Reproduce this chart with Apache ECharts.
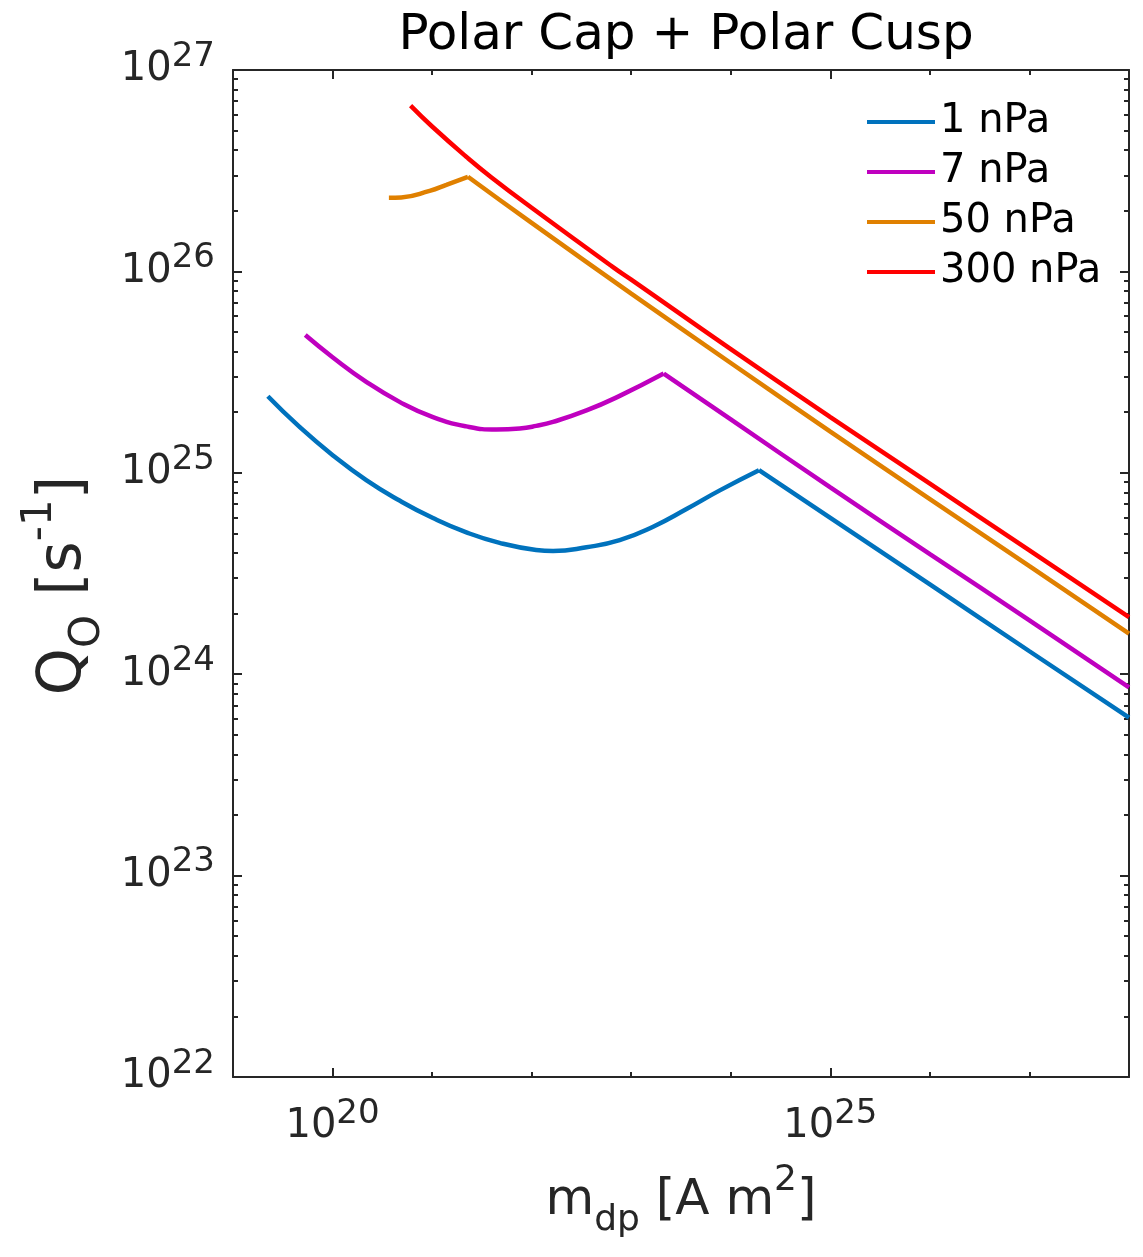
<!DOCTYPE html>
<html>
<head>
<meta charset="utf-8">
<title>Polar Cap + Polar Cusp</title>
<script src="https://cdn.jsdelivr.net/npm/echarts@6/dist/echarts.min.js"></script>
<style>
  html, body { margin: 0; padding: 0; background: #ffffff; }
  #chart { width: 1143px; height: 1257px; }
</style>
</head>
<body>
<div id="chart"></div>
<script>
// Dipole moment m_dp [A m^2] and oxygen outflow Q_O [s^-1] for each dynamic pressure.
// Each curve has a low-moment branch up to its kink and a power-law branch after it.
const m1nPaLow = [2.24e19, 4.66e19, 1.01e20, 2.18e20, 4.71e20, 1.02e21, 2.21e21, 4.76e21, 1.11e22, 1.64e22, 3.55e22, 7.66e22, 1.66e23, 3.59e23, 7.76e23, 1.92e24];
const q1nPaLow = [2.40e25, 1.69e25, 1.22e25, 9.20e24, 7.28e24, 5.96e24, 5.06e24, 4.49e24, 4.14e24, 4.09e24, 4.27e24, 4.63e24, 5.40e24, 6.61e24, 8.18e24, 1.03e25];
const m1nPaHigh = [1.92e24, 1e25, 1e26, 1e27, 1e28];
const q1nPaHigh = [1.03e25, 5.98e24, 2.79e24, 1.30e24, 6.08e23];

const m7nPaLow = [5.32e19, 1.00e20, 2.18e20, 4.71e20, 1.02e21, 2.21e21, 4.42e21, 7.59e21, 1.11e22, 1.64e22, 3.55e22, 7.66e22, 2.12e23];
const q7nPaLow = [4.83e25, 3.75e25, 2.83e25, 2.25e25, 1.89e25, 1.70e25, 1.64e25, 1.66e25, 1.71e25, 1.79e25, 2.04e25, 2.41e25, 3.11e25];
const m7nPaHigh = [2.12e23, 1e24, 1e25, 1e26, 1e27, 1e28];
const q7nPaHigh = [3.11e25, 1.84e25, 8.47e24, 3.95e24, 1.85e24, 8.61e23];

const m50nPaLow = [3.68e20, 4.90e20, 9.44e20, 1.39e21, 2.29e21];
const q50nPaLow = [2.32e26, 2.33e26, 2.51e26, 2.69e26, 2.95e26];
const m50nPaHigh = [2.29e21, 1e22, 1e23, 1e24, 1e25, 1e26, 1e27, 1e28];
const q50nPaHigh = [2.95e26, 1.74e26, 7.76e25, 3.51e25, 1.60e25, 7.41e24, 3.44e24, 1.59e24];

const m300nPa = [6.08e20, 1e21, 2.29e21, 3.98e21, 1e22, 6.56e22, 1e23, 1e24, 1e25, 1e26, 1e27, 1e28];
const q300nPa = [6.65e26, 5.24e26, 3.65e26, 2.92e26, 2.07e26, 1.05e26, 9.10e25, 4.11e25, 1.89e25, 8.83e24, 4.12e24, 1.92e24];

const seriesNames = ['1 nPa', '7 nPa', '50 nPa', '300 nPa'];
const seriesColors = ['#0072BD', '#BF00BF', '#E08000', '#FF0000'];

// Axis ticks
const xDecadeTicks = [1e19, 1e20, 1e21, 1e22, 1e23, 1e24, 1e25, 1e26, 1e27, 1e28];
const xLabelTicks = [1e20, 1e25];
const yDecadeTicks = [1e22, 1e23, 1e24, 1e25, 1e26, 1e27];
const yMinorMantissas = [2, 3, 4, 5, 6, 7, 8, 9];
const yMinorDecades = [1e22, 1e23, 1e24, 1e25, 1e26];
const yMinorTicks = [];
yMinorDecades.forEach(d => yMinorMantissas.forEach(k => yMinorTicks.push(k * d)));

// Axis ranges (a hair wider than the end decades so the end ticks are kept)
const X_MIN = 0.999999e19, X_MAX = 1.000001e28;
const Y_MIN = 0.999999e22, Y_MAX = 1.000001e27;

const AXIS = '#262626';
const FONT = 'DejaVu Sans';

function pairs(xs, ys) { return xs.map((x, i) => [x, ys[i]]); }

const powerRich = {
  b: { fontSize: 40, lineHeight: 60, color: AXIS, fontFamily: FONT },
  e: { fontSize: 34, lineHeight: 38, verticalAlign: 'top', color: AXIS, fontFamily: FONT }
};
function powerLabel(v) {
  const p = Math.round(Math.log10(v));
  return '{b|10}{e|' + p + '}';
}
const xNameRich = {
  n: { fontSize: 50, lineHeight: 76, color: AXIS, fontFamily: FONT },
  sup: { fontSize: 36, lineHeight: 46, verticalAlign: 'top', color: AXIS, fontFamily: FONT },
  sub: { fontSize: 36, lineHeight: 44, verticalAlign: 'bottom', color: AXIS, fontFamily: FONT }
};
const yNameRich = {
  n: { fontSize: 60, lineHeight: 90, color: AXIS, fontFamily: FONT },
  sup: { fontSize: 42, lineHeight: 54, verticalAlign: 'top', color: AXIS, fontFamily: FONT },
  sub: { fontSize: 42, lineHeight: 56, verticalAlign: 'bottom', color: AXIS, fontFamily: FONT }
};

function logAxis(min, max, position, opts) {
  return Object.assign({
    type: 'log', logBase: 10, min: min, max: max, position: position,
    splitLine: { show: false },
    minorTick: { show: false },
    axisLine: { show: true, onZero: false, lineStyle: { color: AXIS, width: 2 } },
    axisLabel: { show: false },
    axisTick: { show: false }
  }, opts);
}
function ticks(values, len) {
  return { show: true, inside: true, length: len, customValues: values, lineStyle: { color: AXIS, width: 2 } };
}

const chart = echarts.init(document.getElementById('chart'), null, { renderer: 'canvas' });

function curve(name, color, xs, ys) {
  return {
    name: name,
    type: 'line',
    xAxisIndex: 0, yAxisIndex: 0,
    data: pairs(xs, ys),
    smooth: true,
    showSymbol: false, symbol: 'none',
    color: color,
    lineStyle: { color: color, width: 4.5 },
    z: 3
  };
}

const option = {
  animation: false,
  backgroundColor: '#ffffff',
  textStyle: { fontFamily: FONT },
  title: {
    text: 'Polar Cap + Polar Cusp',
    left: 681, top: 6, textAlign: 'center',
    textStyle: { fontSize: 50, fontWeight: 'normal', color: '#000000', fontFamily: FONT }
  },
  grid: { left: 233, top: 70, width: 896, height: 1007, containLabel: false },
  legend: {
    data: seriesNames,
    orient: 'vertical',
    left: 862, top: 97,
    icon: 'rect',
    itemWidth: 68, itemHeight: 4, itemGap: 10,
    selectedMode: false,
    textStyle: { fontSize: 40, lineHeight: 40, color: '#000000', fontFamily: FONT }
  },
  xAxis: [
    logAxis(X_MIN, X_MAX, 'bottom', {
      axisTick: ticks(xDecadeTicks, 5),
      axisLabel: {
        show: true, customValues: xLabelTicks, margin: 20,
        formatter: powerLabel, rich: powerRich
      },
      name: '{n|m}{sub|dp}{n| [A m}{sup|2}{n|]}',
      nameLocation: 'middle', nameGap: 86,
      nameTextStyle: { rich: xNameRich }
    }),
    logAxis(X_MIN, X_MAX, 'top', { axisTick: ticks(xDecadeTicks, 5) }),
    logAxis(X_MIN, X_MAX, 'bottom', { axisLine: { show: false }, axisTick: ticks(xLabelTicks, 9) }),
    logAxis(X_MIN, X_MAX, 'top', { axisLine: { show: false }, axisTick: ticks(xLabelTicks, 9) })
  ],
  yAxis: [
    logAxis(Y_MIN, Y_MAX, 'left', {
      axisTick: ticks(yDecadeTicks, 9),
      axisLabel: {
        show: true, customValues: yDecadeTicks, margin: 18,
        formatter: powerLabel, rich: powerRich
      },
      name: '{n|Q}{sub|O}{n| [s}{sup|-1}{n|]}',
      nameLocation: 'middle', nameGap: 124,
      nameTextStyle: { rich: yNameRich, padding: [0, 24, 0, 0] }
    }),
    logAxis(Y_MIN, Y_MAX, 'right', { axisTick: ticks(yDecadeTicks, 9) }),
    logAxis(Y_MIN, Y_MAX, 'left', { axisLine: { show: false }, axisTick: ticks(yMinorTicks, 5) }),
    logAxis(Y_MIN, Y_MAX, 'right', { axisLine: { show: false }, axisTick: ticks(yMinorTicks, 5) })
  ],
  series: [
    curve(seriesNames[0], seriesColors[0], m1nPaLow, q1nPaLow),
    curve(seriesNames[0], seriesColors[0], m1nPaHigh, q1nPaHigh),
    curve(seriesNames[1], seriesColors[1], m7nPaLow, q7nPaLow),
    curve(seriesNames[1], seriesColors[1], m7nPaHigh, q7nPaHigh),
    curve(seriesNames[2], seriesColors[2], m50nPaLow, q50nPaLow),
    curve(seriesNames[2], seriesColors[2], m50nPaHigh, q50nPaHigh),
    curve(seriesNames[3], seriesColors[3], m300nPa, q300nPa)
  ]
};

chart.setOption(option);
</script>
</body>
</html>
